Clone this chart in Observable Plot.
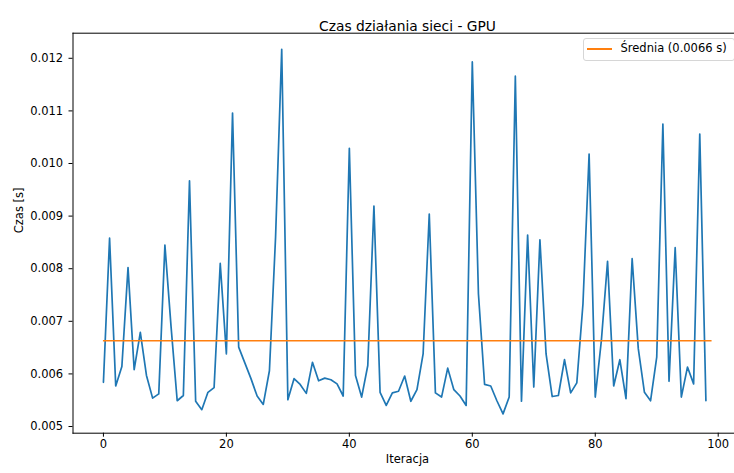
<!DOCTYPE html>
<html><head><meta charset="utf-8">
<script src="https://cdn.jsdelivr.net/npm/d3@7"></script>
<script src="https://cdn.jsdelivr.net/npm/@observablehq/plot@0.6"></script>
<style>
body{margin:0;background:#fff;}
#wrap{position:relative;width:734px;height:473px;font-family:"DejaVu Sans",sans-serif;overflow:hidden;}
#wrap svg{position:absolute;left:0;top:0;}
.legend{position:absolute;left:582.5px;top:38px;width:152px;height:23px;border:1px solid #d6d6d6;border-radius:3px;background:rgba(255,255,255,0.8);box-sizing:border-box;font-size:11.5px;color:#000;}
.legend .sw{position:absolute;left:3px;top:9.3px;width:25px;height:1.7px;background:#ff7f0e;}
.legend .lb{position:absolute;left:37px;top:3px;white-space:nowrap;line-height:13px;}
</style></head><body><div id="wrap"></div>
<script>
const title = "Czas działania sieci - GPU";
const xLabel = "Iteracja";
const yLabel = "Czas [s]";
const meanLabel = "Średnia (0.0066 s)";
const iterations = d3.range(99);
const times = [
  0.00584, 0.00858, 0.00577, 0.00614, 0.00802, 0.00608, 0.00679, 0.00597, 0.00554, 0.00562,
  0.00845, 0.00690, 0.00549, 0.00559, 0.00967, 0.00548, 0.00532, 0.00565, 0.00574, 0.00810,
  0.00638, 0.01096, 0.00651, 0.00621, 0.00591, 0.00558, 0.00542, 0.00606, 0.00860, 0.01217,
  0.00551, 0.00591, 0.00580, 0.00563, 0.00622, 0.00587, 0.00592, 0.00589, 0.00581, 0.00558,
  0.01029, 0.00597, 0.00556, 0.00616, 0.00919, 0.00565, 0.00540, 0.00564, 0.00567, 0.00596,
  0.00548, 0.00570, 0.00638, 0.00904, 0.00564, 0.00556, 0.00611, 0.00570, 0.00558, 0.00540,
  0.01193, 0.00752, 0.00580, 0.00577, 0.00549, 0.00524, 0.00556, 0.01166, 0.00548, 0.00864,
  0.00575, 0.00855, 0.00638, 0.00557, 0.00559, 0.00627, 0.00564, 0.00583, 0.00733, 0.01018,
  0.00556, 0.00664, 0.00814, 0.00577, 0.00627, 0.00553, 0.00819, 0.00648, 0.00565, 0.00549,
  0.00632, 0.01075, 0.00586, 0.00840, 0.00556, 0.00613, 0.00581, 0.01056, 0.00549
];
const meanValue = 0.00663;
const meanX = [0, 99];
const xTicks = [0, 20, 40, 60, 80, 100];
const yTicks = [0.005, 0.006, 0.007, 0.008, 0.009, 0.010, 0.011, 0.012];

const data = iterations.map((i, k) => ({i, t: times[k]}));

const chart = Plot.plot({
  width: 734, height: 473,
  marginLeft: 72.5, marginRight: 0, marginTop: 32.7, marginBottom: 40.3,
  style: {fontFamily: "DejaVu Sans", fontSize: "11.5px", color: "#000", background: "#fff", overflow: "visible"},
  x: {domain: [-4.95, 102.65]},
  y: {domain: [0.004873, 0.012477]},
  marks: [
    Plot.frame({anchor: "left", stroke: "#000", strokeWidth: 1}),
    Plot.frame({anchor: "bottom", stroke: "#000", strokeWidth: 1}),
    Plot.frame({anchor: "top", stroke: "#000", strokeWidth: 1}),
    Plot.axisX({ticks: xTicks, tickSize: 4, tickPadding: 3, label: null, stroke: "#000", fontSize: 11.5}),
    Plot.axisY({ticks: yTicks, tickFormat: ".3f", tickSize: 4, tickPadding: 5.8, label: null, stroke: "#000", fontSize: 11.5}),
    Plot.line(data, {x: "i", y: "t", stroke: "#1f77b4", strokeWidth: 1.7}),
    Plot.ruleY([meanValue], {x1: meanX[0], x2: meanX[1], stroke: "#ff7f0e", strokeWidth: 1.7}),
    Plot.text([title], {frameAnchor: "top", dy: -12.5, dx: 3.75, fontSize: 13.8, fill: "#000"}),
    Plot.text([xLabel], {frameAnchor: "bottom", dy: 30, dx: 3.75, fontSize: 11.5, fill: "#000"}),
    Plot.text([yLabel], {frameAnchor: "left", dx: -54, rotate: -90, fontSize: 11.5, fill: "#000"})
  ]
});
const wrap = document.getElementById("wrap");
wrap.appendChild(chart);
const lg = document.createElement("div");
lg.className = "legend";
lg.innerHTML = '<div class="sw"></div><div class="lb"></div>';
lg.querySelector(".lb").textContent = meanLabel;
wrap.appendChild(lg);
</script>
</body></html>
